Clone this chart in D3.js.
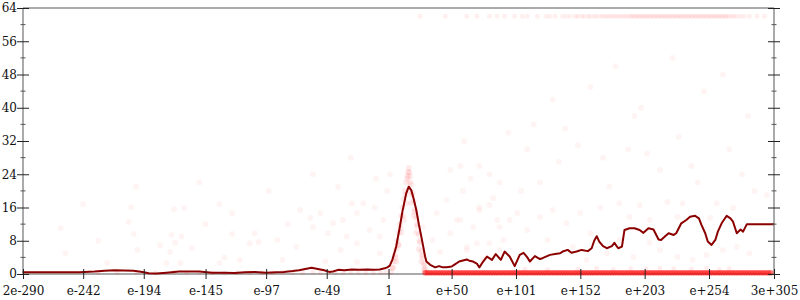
<!DOCTYPE html>
<html>
<head>
<meta charset="utf-8">
<script src="https://cdn.jsdelivr.net/npm/d3@7"></script>
<style>
  body { margin: 0; background: #fff; }
  svg { display: block; font-family: "DejaVu Serif", serif; }
</style>
</head>
<body>
<svg id="chart" width="800" height="300"></svg>
<script>
// x values are decimal exponents (log10 of the value), y is the measured quantity
var xTickValues = [-289.7, -242, -194, -145, -97, -49, 0, 50, 101, 152, 203, 254, 305.5];
var xTickLabels = ["2e-290", "e-242", "e-194", "e-145", "e-97", "e-49", "1", "e+50", "e+101", "e+152", "e+203", "e+254", "3e+305"];
var yMajorTicks = [0, 8, 16, 24, 32, 40, 48, 56, 64];
var yMinorTicks = [4, 12, 20, 28, 36, 44, 52, 60];

// smoothed line
var lineX = [-290, -277, -261, -245, -233, -225, -217, -210, -202, -195, -190, -184, -176, -166, -158, -150,
  -140, -130, -122, -114, -106, -97, -89, -83, -76, -71, -66, -61, -56, -51, -47, -44, -40, -35, -29, -23,
  -17, -12, -7, -3, -1, 1, 3, 6, 9, 11, 14, 16, 18, 20, 22, 24, 26, 29, 30, 33, 37, 40, 43, 46, 50, 52,
  56, 62, 64, 67, 70, 72, 75, 78, 82, 85, 89, 92, 96, 100, 104, 107, 110, 112, 116, 120, 122, 128, 132,
  136, 138, 142, 145, 149, 153, 158, 161, 163, 165, 167, 170, 173, 177, 179, 182, 185, 187, 191, 195,
  199, 202, 206, 210, 214, 216, 219, 222, 226, 228, 232, 236, 239, 243, 246, 248, 251, 253, 256, 259,
  261, 264, 268, 271, 273, 276, 279, 281, 284, 305.5];
var lineY = [0.4, 0.4, 0.4, 0.45, 0.6, 0.8, 0.9, 0.85, 0.8, 0.5, 0.2, 0.1, 0.3, 0.6, 0.6, 0.6,
  0.3, 0.3, 0.25, 0.4, 0.5, 0.3, 0.4, 0.5, 0.7, 0.9, 1.2, 1.5, 1.2, 0.9, 0.5, 0.6, 1.0, 0.9, 1.1, 1.0,
  1.1, 1.0, 1.1, 1.4, 1.6, 2.0, 3.4, 6.5, 11.4, 15, 19.4, 21, 20.2, 18, 15.4, 12, 9, 4.2, 3, 2.2, 1.6, 1.9, 1.6, 1.6, 1.8, 2.2,
  3.0, 3.5, 3.2, 3.0, 2.5, 1.6, 3.0, 4.2, 3.4, 4.8, 3.4, 5.4, 4.2, 1.9, 4.6, 5.1, 4.0, 3.0, 4.3, 3.6, 3.8, 4.6, 4.8,
  5.0, 5.4, 5.8, 5.1, 5.4, 5.8, 5.5, 6.2, 8.0, 9.1, 7.8, 6.7, 6.2, 6.7, 7.5, 6.2, 6.6, 10.6, 11.0, 11.0,
  10.6, 9.9, 11.0, 10.7, 8.3, 8.2, 9.0, 9.8, 9.4, 9.8, 12.2, 13.0, 13.8, 14.0, 13.4, 11.8, 9.8, 7.8, 7.0, 8.2,
  10.2, 12.2, 14.0, 13.4, 12.6, 9.8, 10.7, 10.2, 12.0, 12.0];

// loose sample points
var dotX = [-242, -204, -206, -202, -199, -256, -172, -169, -164, -170, -162, -181, -173, -156, -165, -223, -176,
  -134, -124, -106, -103, -110, -88, -73, -70, -62, -60, -54, -48, -44, -38, -36, -33, -25, -20, -15, -11, -7,
  -29, -25, -124, -118, -134, -84, -25, -150, -95, -60, -30, -200, -260, -40, -10, -130, -50, -80, -145, -230,
  72, 80, 88, 96, 102, 110, 120, 130, 141, 152, 160, 70, 88, 126, 146, 62, 75, 157, 49, 57, 57, 72, 49, 65, 80,
  88, 59, 46, 72, 83, 38, 54, 67, 86, 1, -1, -4, -7, 27, 35, 41, 62, 80, 91, 168, 183, 199, 221, 233, 260, 273,
  191, 207, 229, 255, 173, 194, 215, 229, 241, 252, 265, 276, 286, 207, 183, 110, 140, 170, 200, 230, 250, 270,
  285, 160, 120, 215, 245, 280, 190, 95, 60, 130, 265, 225, 180, 105, 135, 175, 205, 240, 290, 300, 115, 150, 195];
var dotY = [16.8, 16, 12.5, 9.6, 5.8, 5, 9.4, 7.5, 9, 15.6, 15.8, 7, 5.3, 6.2, 2.6, 2.6, 2.6,
  16.8, 9.6, 9.8, 7.7, 7.4, 8.2, 6.5, 15.4, 13.5, 11.3, 14.7, 9.8, 12.2, 5.8, 13, 9, 7.4, 17, 10.6, 16, 5,
  17, 14.7, 14.7, 3.4, 2.6, 3.4, 2.9, 22, 20, 24, 28, 21, 11, 21, 23, 4, 3, 12, 12, 8,
  15.4, 16.6, 11.3, 13, 14.7, 10.6, 13.7, 15.4, 12.2, 14.7, 9.8, 7.4, 5.8, 8.2, 6.5, 5.8, 3.4, 3.4, 9.8, 13, 26, 26, 25, 23, 24,
  22, 20, 17.8, 16, 18.3, 14.7, 13, 11.3, 13, 24, 20, 13, 9, 11.3, 8.2, 5.3, 6.5, 7.4, 8.2, 16, 17, 16.6, 17.3, 17, 17, 15.9,
  13.7, 13, 13.7, 13.5, 5, 4.1, 5.8, 4.1, 3.4, 4.6, 5.8, 6.5, 5, 7.5, 8.2, 30, 35, 28, 40, 33, 44, 30,
  38, 45, 22, 25, 22, 24, 30, 34, 32, 42, 48, 52, 50, 20, 27, 21, 29, 26, 20, 19, 36, 31, 38];

// points packed along the spike near 1
var peakX = [2, 3, 4, 5, 6, 7, 8, 9, 10, 11, 12, 13, 14, 15, 15.5, 16, 16.5, 17, 18, 19, 20, 21, 22, 23, 24, 25, 26, 27, 28, 29, 30,
  6, 8, 10, 12, 14, 16, 18, 20, 22, 24, 26, 28, 3.5, 5.5, 7.5, 9.5, 11.5, 13.5, 15, 17, 18.5, 20.5, 22.5, 24.5, 26.5, 28.5];
var peakY = [0.5, 1.5, 3, 4.5, 6, 8, 10, 12, 14, 16, 18, 20, 22, 23.5, 24.5, 25.5, 24.5, 23.5, 21.5, 19.5, 17.5, 15.5, 13.5, 11.5, 9.5, 7.5, 5.5, 4, 2.5, 1.2, 0.5,
  3, 7, 10, 13, 17, 20, 17, 14, 10, 6, 3, 1, 1.5, 4, 7, 11, 14, 19, 23, 22, 19, 15, 12, 8, 4.5, 2];

// dense run of points sitting on zero, right of the spike
var zeroX = [29, 31, 33, 35, 37, 39, 41, 43, 45, 47, 49, 51, 53, 55, 57, 59, 61, 63, 65, 67, 69, 71, 73, 75, 77, 79,
  81, 83, 85, 87, 89, 91, 93, 95, 97, 99, 101, 103, 105, 107, 109, 111, 113, 115, 117, 119, 121, 123, 125, 127, 129,
  131, 133, 135, 137, 139, 141, 143, 145, 147, 149, 151, 153, 155, 157, 159, 161, 163, 165, 167, 169, 171, 173, 175,
  177, 179, 181, 183, 185, 187, 189, 191, 193, 195, 197, 199, 201, 203, 205, 207, 209, 211, 213, 215, 217, 219, 221,
  223, 225, 227, 229, 231, 233, 235, 237, 239, 241, 243, 245, 247, 249, 251, 253, 255, 257, 259, 261, 263, 265, 267,
  269, 271, 273, 275, 277, 279, 281, 283, 285, 287, 289, 291, 293, 295, 297, 299, 301, 303];
// faint points hugging zero on the left
var lowX = [-230, -215, -200, -185, -170, -160, -150, -140, -130, -120, -110, -100, -92, -84, -76, -68, -60, -54, -48,
  -42, -36, -30, -24, -18, -12, -6, -2, 108, 126, 150, 165, 178, 192, 204, 215, 226, 240, 252, 262, 270];
var lowY = [0.3, 0.3, 0.3, 0.3, 0.4, 0.3, 0.3, 0.3, 0.2, 0.3, 0.3, 0.3, 0.3, 0.4, 0.3, 0.3, 0.4, 0.3, 0.3,
  0.3, 0.3, 0.4, 0.3, 0.3, 0.3, 0.3, 0.5, 1.2, 1.0, 1.2, 1.4, 1.1, 1.3, 1.2, 1.4, 1.3, 1.2, 1.4, 1.1, 1.3];

// band of points near the top
var topX = [25, 45, 62, 70, 80, 86, 92, 100, 106, 110, 118, 125, 128, 132, 138, 141, 144, 148, 150, 153, 155, 158, 160,
  163, 165, 168, 170, 172, 174, 176, 178, 180, 182, 184, 186, 188, 190, 192, 193, 195, 196, 198, 199, 201, 202, 204,
  205, 207, 208, 210, 211, 213, 214, 216, 217, 219, 220, 222, 223, 225, 226, 228, 229, 231, 232, 234, 235, 237, 238,
  240, 241, 243, 244, 246, 247, 249, 250, 252, 253, 255, 256, 258, 259, 261, 262, 264, 265, 267, 268, 270, 272, 274,
  276, 279, 282, 286, 292, 298];

var margin = {left: 23, right: 26, top: 8, bottom: 26};
var w = 800, h = 300;
var svg = d3.select("#chart");

var x = d3.scaleLinear().domain([-289.7, 305.5]).range([margin.left, w - margin.right]);
var y = d3.scaleLinear().domain([0, 64]).range([h - margin.bottom, margin.top]);

var x0 = x.range()[0], x1 = x.range()[1], y0 = y.range()[0], y1 = y.range()[1];

// gray frame
var frame = svg.append("g").attr("stroke", "#aaa").attr("stroke-width", 2);
[[x0, y0, x0, y1], [x0, y1, x1, y1], [x1, y1, x1, y0], [x0, y0, x1, y0]].forEach(function(s) {
  frame.append("line").attr("x1", s[0]).attr("y1", s[1]).attr("x2", s[2]).attr("y2", s[3]);
});

// points
var dots = svg.append("g").attr("fill", "#ff0000");
function addDots(xs, ys, r, op) {
  xs.forEach(function(d, i) {
    dots.append("circle")
      .attr("cx", x(d)).attr("cy", y(ys[i]))
      .attr("r", r).attr("fill-opacity", op);
  });
}
addDots(dotX, dotY, 3, 0.045);
addDots(lowX, lowY, 2.5, 0.07);
addDots(topX, topX.map(function() { return 62; }), 2.5, 0.06);
addDots(peakX, peakY, 3, 0.08);
addDots(zeroX, zeroX.map(function() { return 0.3; }), 2.8, 0.5);

// smoothed line
var line = d3.line().x(function(d) { return x(d[0]); }).y(function(d) { return y(d[1]); });
svg.append("path")
  .datum(lineX.map(function(d, i) { return [d, lineY[i]]; }))
  .attr("fill", "none")
  .attr("stroke", "#8b0000")
  .attr("stroke-width", 2)
  .attr("stroke-linejoin", "round")
  .attr("d", line);

// left axis
var yAxis = svg.append("g").attr("transform", "translate(" + x0 + ",0)")
  .call(d3.axisLeft(y).tickValues(yMajorTicks).tickSize(6).tickPadding(0).tickFormat(d3.format("d")));
yAxis.select(".domain").remove();
yAxis.selectAll(".tick line").attr("x1", -6).attr("x2", 6).attr("stroke", "#222");
yAxis.selectAll(".tick text").attr("font-size", 12).attr("fill", "#111").attr("font-family", "DejaVu Serif");

// minor ticks, both sides
[x0, x1].forEach(function(px) {
  svg.append("g").selectAll("line").data(yMinorTicks).enter().append("line")
    .attr("x1", px - 2.5).attr("x2", px + 2.5)
    .attr("y1", function(d) { return y(d); }).attr("y2", function(d) { return y(d); })
    .attr("stroke", "#555").attr("stroke-width", 1);
});

// right axis, ticks only
var yAxisR = svg.append("g").attr("transform", "translate(" + x1 + ",0)")
  .call(d3.axisRight(y).tickValues(yMajorTicks).tickSize(6).tickFormat(""));
yAxisR.select(".domain").remove();
yAxisR.selectAll(".tick line").attr("x1", -6).attr("x2", 6).attr("stroke", "#222");

// bottom axis
var xAxis = svg.append("g").attr("transform", "translate(0," + y0 + ")")
  .call(d3.axisBottom(x).tickValues(xTickValues).tickSize(6).tickPadding(6)
    .tickFormat(function(d, i) { return xTickLabels[i]; }));
xAxis.select(".domain").remove();
xAxis.selectAll(".tick line").attr("y1", -5).attr("y2", 5).attr("stroke", "#222");
xAxis.selectAll(".tick text").attr("font-size", 12).attr("fill", "#111").attr("font-family", "DejaVu Serif");
</script>
</body>
</html>
